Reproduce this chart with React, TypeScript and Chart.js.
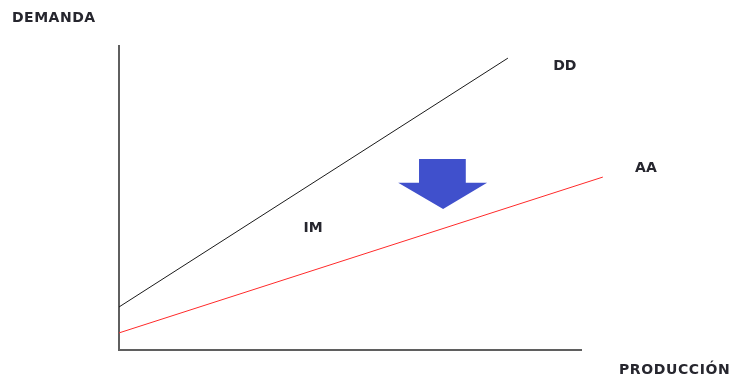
import React, { useEffect, useRef } from "react";
import { Chart, registerables } from "chart.js";

Chart.register(...registerables);

// Data (in chart units: x 0..100 production, y 0..100 demand)
const ddX = [0, 84.0];
const ddY = [14.1, 95.7];
const aaX = [0, 104.5];
const aaY = [5.6, 56.7];
// Arrow polygon (shift of DD downward)
const arrowX = [64.8, 74.9, 74.9, 79.5, 70.0, 60.3, 64.8];
const arrowY = [62.6, 62.6, 54.8, 54.8, 46.2, 54.8, 54.8];
const curveLabels = ["DD", "AA", "IM"];
const curveLabelX = [96.3, 113.8, 41.9];
const curveLabelY = [93.1, 59.7, 40.0];
const yTitle = "DEMANDA";
const xTitle = "PRODUCCIÓN";

const FONT = 'bold 14px "DejaVu Sans", sans-serif';

const diagramPlugin = {
  id: "diagram",
  beforeDatasetsDraw(chart: any) {
    const { ctx, chartArea, scales } = chart;
    const xs = scales.x;
    const ys = scales.y;
    ctx.save();
    // axes
    ctx.strokeStyle = "#5f5f5f";
    ctx.lineWidth = 2;
    ctx.beginPath();
    ctx.moveTo(chartArea.left, chartArea.top);
    ctx.lineTo(chartArea.left, chartArea.bottom);
    ctx.lineTo(chartArea.right, chartArea.bottom);
    ctx.stroke();
    // arrow
    ctx.fillStyle = "#4050cc";
    ctx.beginPath();
    arrowX.forEach((v, i) => {
      const px = xs.getPixelForValue(v);
      const py = ys.getPixelForValue(arrowY[i]);
      if (i === 0) ctx.moveTo(px, py);
      else ctx.lineTo(px, py);
    });
    ctx.closePath();
    ctx.fill();
    ctx.restore();
  },
  afterDatasetsDraw(chart: any) {
    const { ctx, chartArea, scales } = chart;
    const xs = scales.x;
    const ys = scales.y;
    ctx.save();
    ctx.font = FONT;
    ctx.fillStyle = "#26262e";
    ctx.textBaseline = "middle";
    (ctx as any).letterSpacing = "0px";
    ctx.textAlign = "center";
    curveLabels.forEach((t, i) => {
      ctx.fillText(t, xs.getPixelForValue(curveLabelX[i]), ys.getPixelForValue(curveLabelY[i]));
    });
    ctx.textAlign = "left";
    (ctx as any).letterSpacing = "0.5px";
    ctx.fillText(yTitle, chartArea.left - 107, chartArea.top - 27);
    (ctx as any).letterSpacing = "0.6px";
    ctx.fillText(xTitle, chartArea.right + 37, chartArea.bottom + 20);
    ctx.restore();
  },
};

export default function App() {
  const ref = useRef<HTMLCanvasElement | null>(null);
  useEffect(() => {
    document.body.style.margin = "0";
    const chart = new Chart(ref.current!, {
      type: "scatter",
      data: {
        datasets: [
          {
            label: "DD",
            data: ddX.map((x, i) => ({ x, y: ddY[i] })),
            showLine: true,
            borderColor: "#1a1a1a",
            borderWidth: 1,
            pointRadius: 0,
            clip: false as any,
          },
          {
            label: "AA",
            data: aaX.map((x, i) => ({ x, y: aaY[i] })),
            showLine: true,
            borderColor: "#ff2a2a",
            borderWidth: 1,
            pointRadius: 0,
            clip: false as any,
          },
        ],
      },
      options: {
        animation: false,
        responsive: true,
        maintainAspectRatio: false,
        layout: { padding: { left: 119, top: 45, right: 152, bottom: 28 } },
        plugins: { legend: { display: false }, tooltip: { enabled: false } },
        events: [],
        scales: {
          x: { type: "linear", min: 0, max: 100, display: false },
          y: { type: "linear", min: 0, max: 100, display: false },
        },
      },
      plugins: [diagramPlugin],
    });
    return () => chart.destroy();
  }, []);
  return (
    <div style={{ position: "absolute", left: 0, top: 0, width: 734, height: 378, background: "#fff" }}>
      <canvas ref={ref} />
    </div>
  );
}
